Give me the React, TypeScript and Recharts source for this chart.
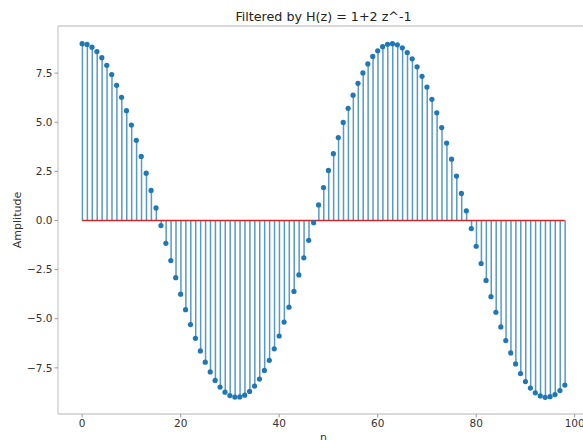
import React from "react"
import { ComposedChart, Bar, Scatter, XAxis, YAxis, ReferenceLine } from "recharts"

// sample index n = 0..98 and the filtered amplitude
const amplitude = [
  9.0, 8.96, 8.82, 8.6, 8.29, 7.9, 7.43, 6.88, 6.27, 5.59,
  4.86, 4.08, 3.26, 2.41, 1.53, 0.64, -0.26, -1.16, -2.04, -2.91,
  -3.75, -4.54, -5.3, -6.0, -6.64, -7.21, -7.71, -8.14, -8.48, -8.74,
  -8.91, -8.99, -8.98, -8.89, -8.7, -8.43, -8.07, -7.63, -7.12, -6.53,
  -5.88, -5.17, -4.41, -3.61, -2.77, -1.9, -1.01, -0.11, 0.79, 1.68,
  2.55, 3.4, 4.22, 4.99, 5.71, 6.38, 6.98, 7.51, 7.97, 8.35,
  8.64, 8.85, 8.97, 9.0, 8.94, 8.79, 8.55, 8.23, 7.82, 7.34,
  6.79, 6.17, 5.48, 4.73, 3.94, 3.12, 2.26, 1.38, 0.49, -0.41,
  -1.31, -2.19, -3.05, -3.88, -4.67, -5.42, -6.11, -6.74, -7.3, -7.79,
  -8.2, -8.53, -8.77, -8.93, -9.0, -8.97, -8.86, -8.66, -8.38,
]

const xTicks = [0, 20, 40, 60, 80, 100]
const yTicks = [-7.5, -5.0, -2.5, 0.0, 2.5, 5.0, 7.5]
const yDomain = [-9.85, 9.9]

const data = amplitude.map((v, n) => ({ n, v }))

const font = "DejaVu Sans, sans-serif"
const spine = "#cccccc"
const tickStyle = { fontSize: 10.5, fill: "#333", fontFamily: font }

const fmt = (v: number) => v.toFixed(1).replace("-", "\u2212")

export default function App() {
  return (
    <div style={{ position: "absolute", left: 0, top: 0, width: 583, height: 440, overflow: "hidden", background: "#fff" }}>
      <div
        style={{
          position: "absolute",
          left: 0,
          width: 647,
          top: 9,
          textAlign: "center",
          fontFamily: font,
          fontSize: 12.7,
          color: "#222",
        }}
      >
        Filtered by H(z) = 1+2 z^-1
      </div>
      <ComposedChart width={600} height={440} data={data} margin={{ top: 26, right: 11, bottom: 0, left: 0 }}>
        <XAxis
          dataKey="n"
          type="number"
          domain={[-4.9, 102.9]}
          ticks={xTicks}
          allowDataOverflow
          height={26}
          tick={tickStyle}
          tickSize={3.5}
          tickMargin={2}
          tickLine={{ stroke: "#999" }}
          axisLine={{ stroke: spine, strokeWidth: 1.3 }}
          label={{ value: "n", position: "insideBottom", offset: -1, style: { fontSize: 11, fill: "#333", fontFamily: font } }}
        />
        <YAxis
          type="number"
          domain={yDomain}
          ticks={yTicks}
          allowDataOverflow
          width={58}
          tick={tickStyle}
          tickFormatter={fmt}
          tickSize={3.5}
          tickMargin={2}
          tickLine={{ stroke: "#999" }}
          axisLine={{ stroke: spine, strokeWidth: 1.3 }}
          label={{ value: "Amplitude", angle: -90, position: "insideLeft", offset: 17, style: { fontSize: 11, fill: "#333", fontFamily: font, textAnchor: "middle" } }}
        />
        <ReferenceLine y={yDomain[1]} stroke={spine} strokeWidth={1.3} ifOverflow="visible" />
        <Bar dataKey="v" barSize={1.5} fill="#1f77b4" fillOpacity={0.75} isAnimationActive={false} />
        <ReferenceLine
          segment={[{ x: 0, y: 0 }, { x: 98, y: 0 }]}
          stroke="#d62728"
          strokeWidth={1.5}
        />
        <Scatter dataKey="v" fill="#1f77b4" isAnimationActive={false} shape={(p: any) => <circle cx={p.cx} cy={p.cy} r={2.6} fill="#1f77b4" />} />
      </ComposedChart>
    </div>
  )
}
